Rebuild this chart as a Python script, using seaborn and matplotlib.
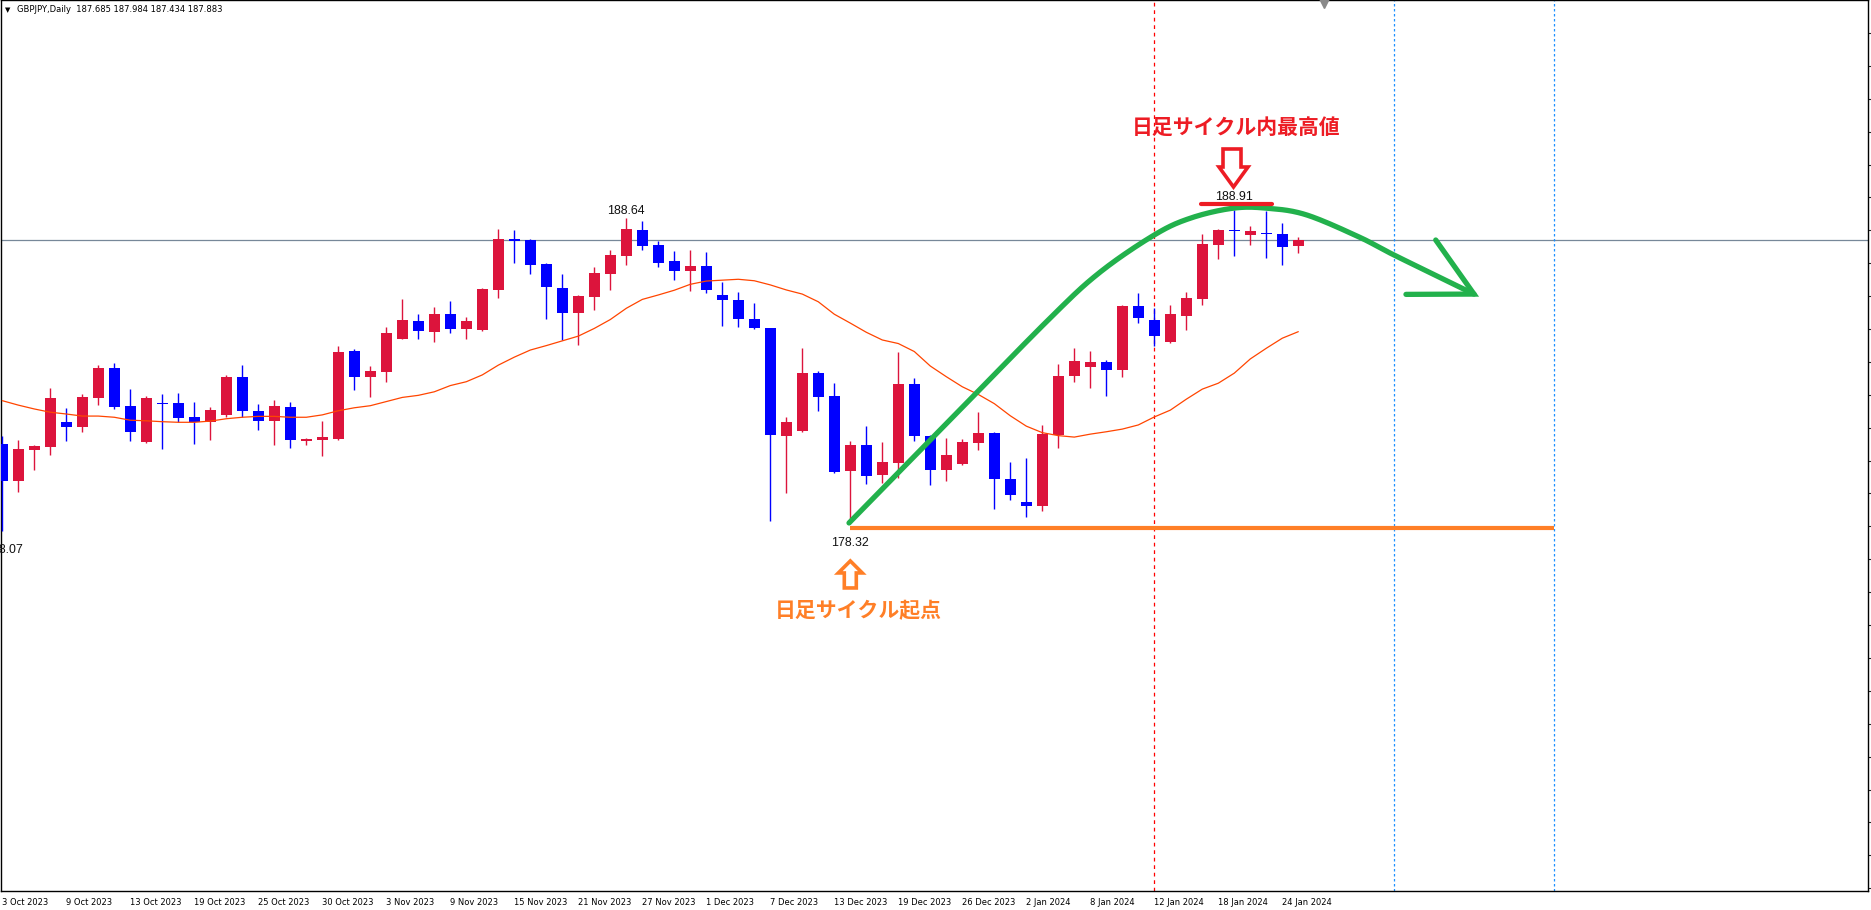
import numpy as np
import pandas as pd
import matplotlib
matplotlib.use("Agg")
import matplotlib.pyplot as plt
import matplotlib.transforms as mtransforms
from matplotlib.patches import Polygon
import seaborn as sns

# ---------------- data ----------------
symbol = "GBPJPY,Daily"
opens = [181.00, 179.76, 180.81, 180.91, 181.74, 181.58, 182.56, 183.56, 182.28, 181.08,
         182.38, 182.38, 181.91, 181.75, 181.98, 183.26, 182.11, 181.78, 182.25, 181.11,
         181.14, 181.18, 184.14, 183.27, 183.44, 184.55, 185.15, 184.79, 185.39, 184.89,
         184.86, 186.21, 187.92, 187.89, 187.08, 186.26, 185.43, 185.97, 186.75, 187.35,
         188.22, 187.72, 187.18, 186.84, 187.01, 186.03, 185.86, 185.22, 184.91, 181.28,
         181.45, 183.39, 182.62, 180.10, 180.96, 179.96, 180.37, 183.02, 181.28, 180.13,
         180.33, 181.04, 181.37, 179.81, 179.04, 178.91, 181.30, 183.29, 183.60, 183.77,
         183.50, 185.66, 185.18, 184.44, 185.32, 185.89, 187.72, 188.22, 188.05, 188.12,
         188.09, 187.685]
highs = [181.27, 181.13, 180.96, 182.89, 182.21, 182.69, 183.66, 183.73, 182.85, 182.62,
         182.69, 182.72, 182.42, 182.24, 183.33, 183.66, 182.35, 182.48, 182.42, 181.20,
         181.77, 184.31, 184.21, 183.63, 184.95, 185.89, 185.39, 185.62, 185.83, 185.29,
         186.27, 188.26, 188.22, 187.92, 187.11, 186.74, 186.03, 186.97, 187.55, 188.64,
         188.53, 187.85, 187.51, 187.55, 187.48, 186.47, 186.13, 185.76, 184.93, 181.91,
         184.24, 183.46, 183.06, 181.10, 181.60, 181.06, 184.10, 183.22, 181.30, 181.20,
         181.17, 182.08, 181.39, 180.40, 180.52, 181.64, 183.70, 184.24, 184.14, 183.83,
         185.69, 186.10, 185.59, 185.69, 186.13, 188.09, 188.25, 188.91, 188.36, 188.85,
         188.46, 187.984]
lows = [178.07, 179.39, 180.12, 180.64, 181.11, 181.41, 182.32, 182.19, 181.11, 181.04,
        180.84, 181.74, 180.99, 181.14, 181.91, 181.91, 181.48, 180.97, 180.87, 180.97,
        180.60, 181.14, 182.83, 182.60, 183.10, 184.54, 184.55, 184.45, 184.76, 184.55,
        184.82, 185.94, 187.12, 186.74, 185.22, 184.51, 184.34, 185.52, 186.20, 187.04,
        187.55, 186.97, 186.53, 186.16, 186.10, 184.98, 184.95, 184.89, 178.38, 179.35,
        181.41, 182.12, 180.03, 178.32, 179.66, 179.69, 179.86, 181.11, 179.62, 179.76,
        180.30, 180.81, 178.81, 179.12, 178.54, 178.74, 180.87, 183.09, 182.89, 182.62,
        183.26, 185.08, 184.31, 184.41, 184.85, 185.69, 187.24, 187.35, 187.72, 187.28,
        187.04, 187.434]
closes = [179.76, 180.83, 180.93, 182.55, 181.58, 182.58, 183.56, 182.26, 181.41, 182.55,
          182.35, 181.89, 181.74, 182.14, 183.26, 182.12, 181.78, 182.28, 181.14, 181.17,
          181.23, 184.10, 183.27, 183.46, 184.75, 185.18, 184.82, 185.39, 184.89, 185.15,
          186.23, 187.92, 187.84, 187.04, 186.31, 185.43, 185.99, 186.77, 187.38, 188.26,
          187.68, 187.11, 186.84, 187.01, 186.20, 185.86, 185.23, 184.93, 181.31, 181.73,
          183.39, 182.60, 180.06, 180.96, 179.93, 180.39, 183.02, 181.28, 180.13, 180.62,
          181.06, 181.37, 179.83, 179.29, 178.91, 181.33, 183.29, 183.80, 183.77, 183.51,
          185.66, 185.25, 184.64, 185.39, 185.93, 187.75, 188.22, 188.18, 188.19, 188.09,
          187.66, 187.883]
ma_values = [182.46, 182.31, 182.18, 182.07, 182.01, 181.94, 181.94, 181.90, 181.80, 181.78,
             181.75, 181.73, 181.73, 181.77, 181.85, 181.90, 181.93, 181.93, 181.90, 181.90,
             181.98, 182.12, 182.22, 182.29, 182.43, 182.57, 182.64, 182.76, 182.97, 183.10,
             183.33, 183.66, 183.93, 184.17, 184.32, 184.48, 184.64, 184.90, 185.20, 185.58,
             185.88, 186.03, 186.19, 186.39, 186.50, 186.53, 186.56, 186.51, 186.37, 186.20,
             186.06, 185.80, 185.38, 185.08, 184.77, 184.51, 184.39, 184.12, 183.63, 183.27,
             182.93, 182.67, 182.36, 181.95, 181.60, 181.38, 181.28, 181.23, 181.33, 181.41,
             181.50, 181.64, 181.91, 182.14, 182.51, 182.85, 183.05, 183.39, 183.87, 184.23,
             184.57, 184.79]
date_labels = ["3 Oct 2023", "9 Oct 2023", "13 Oct 2023", "19 Oct 2023", "25 Oct 2023",
               "30 Oct 2023", "3 Nov 2023", "9 Nov 2023", "15 Nov 2023", "21 Nov 2023",
               "27 Nov 2023", "1 Dec 2023", "7 Dec 2023", "13 Dec 2023", "19 Dec 2023",
               "26 Dec 2023", "2 Jan 2024", "8 Jan 2024", "12 Jan 2024", "18 Jan 2024",
               "24 Jan 2024"]
label_bars = list(range(0, 84, 4))

# annotations (bar index, price)
cycle_low_bar, cycle_low_price = 53, 178.32
cycle_high_bar, cycle_high_price = 77, 188.91
prev_high_bar, prev_high_price = 39, 188.64
first_low_bar, first_low_price = 0, 178.07
support_level = 178.16
support_end_bar = 97
red_sep_bar = 72
blue_sep_bars = [87, 97]
cycle_curve_x = [52.92, 59.11, 65.36, 68.54, 72.01, 74.29, 76.92, 79.04, 81.48, 84.79, 86.98, 91.98]
cycle_curve_y = [178.33, 181.74, 185.18, 186.77, 188.06, 188.63, 188.96, 188.96, 188.74, 187.99, 187.38, 186.06]
arrow_barb_x = [89.59, 91.98, 87.73]
arrow_barb_y = [187.886, 186.06, 186.05]
top_mark_x = [74.9, 79.36]
top_mark_y = 189.11
text_high = "日足サイクル内最高値"
text_low = "日足サイクル起点"

# ---------------- drawing ----------------
sns.set_theme(style="white")
plt.rcParams["font.family"] = ["DejaVu Sans", "Noto Sans CJK JP"]

W, H = 1871, 910
fig = plt.figure(figsize=(W / 100, H / 100), dpi=100)
fig.patch.set_facecolor("white")
ax = fig.add_axes([1 / W, 19 / H, 1867 / W, 891 / H])
ax.set_facecolor("white")

x = np.arange(len(opens))
o = np.array(opens); c = np.array(closes); hi = np.array(highs); lo = np.array(lows)
up = c > o
cols = np.where(up, "#DC143C", "#0000FF")

# y scale: 29.61 px per yen, bid line (187.883) at y=240.1 px from top
ax.set_ylim(187.883 + (240.1 - 891) / 29.61, 187.883 + 240.1 / 29.61)
ax.set_xlim((1 - 2.3) / 16, (1868 - 2.3) / 16)

# bid line
ax.axhline(c[-1], color="#778899", lw=0.9, zorder=1)

# separators
ax.axvline(red_sep_bar, color="#FF0000", lw=0.9, ls=(0, (3, 3)), zorder=1)
for b in blue_sep_bars:
    ax.axvline(b, color="#1E90FF", lw=0.9, ls=(0, (2, 2)), zorder=1)

# candles
ax.vlines(x, lo, hi, colors=cols, lw=1.0, zorder=3)
min_h = 1.3 / 29.61
body_bot = np.minimum(o, c)
body_h = np.maximum(np.abs(c - o), min_h)
ax.bar(x, body_h, bottom=body_bot, width=0.69, color=cols, linewidth=0, zorder=4)

# moving average
df = pd.DataFrame({"bar": x, "ma": ma_values})
sns.lineplot(data=df, x="bar", y="ma", color="#FF4500", lw=0.9, ax=ax, zorder=5)

# support line
ax.plot([cycle_low_bar - 0.05, support_end_bar], [support_level, support_level],
        color="#FF7F27", lw=3.0, solid_capstyle="butt", zorder=6)

# cycle curve (Catmull-Rom through anchor points)
def catmull(px, py, n=30):
    P = np.column_stack([px, py])
    P = np.vstack([P[0] - (P[1] - P[0]), P, P[-1] + (P[-1] - P[-2])])
    out = []
    for i in range(1, len(P) - 2):
        p0, p1, p2, p3 = P[i - 1], P[i], P[i + 1], P[i + 2]
        t = np.linspace(0, 1, n)[:, None]
        seg = 0.5 * ((2 * p1) + (-p0 + p2) * t + (2 * p0 - 5 * p1 + 4 * p2 - p3) * t ** 2
                     + (-p0 + 3 * p1 - 3 * p2 + p3) * t ** 3)
        out.append(seg)
    return np.vstack(out)

cx = np.array(cycle_curve_x) * 16
cy = np.array(cycle_curve_y) * 29.61
curve = catmull(cx, cy)
ax.plot(curve[:, 0] / 16, curve[:, 1] / 29.61, color="#22B14C", lw=3.8,
        solid_capstyle="round", zorder=7)
ax.plot(arrow_barb_x, arrow_barb_y, color="#22B14C", lw=3.8,
        solid_capstyle="round", solid_joinstyle="miter", zorder=7)

# red top mark
ax.plot(top_mark_x, [top_mark_y, top_mark_y], color="#ED1C24", lw=3.0,
        solid_capstyle="round", zorder=8)

# hollow arrows: shapes in pixel offsets relative to a data anchor
def shape_at(bx, by, offs):
    axp, ayp = ax.transData.transform((bx, by))
    pts = [(axp + dx, ayp - dy) for dx, dy in offs]
    return ax.transData.inverted().transform(pts)

red_arrow = [(-11.3, -60.7), (6.7, -60.7), (6.7, -42.7), (13.7, -42.7), (-0.8, -22.7),
             (-15.3, -42.7), (-11.3, -42.7)]
ax.add_patch(Polygon(shape_at(cycle_high_bar, cycle_high_price, red_arrow), closed=True,
                     fill=False, edgecolor="#ED1C24", lw=2.6, joinstyle="miter", zorder=8))
org_arrow = [(0, 37.7), (12, 49.7), (6, 49.7), (6, 64.7), (-6, 64.7), (-6, 49.7), (-12, 49.7)]
ax.add_patch(Polygon(shape_at(cycle_low_bar, cycle_low_price, org_arrow), closed=True,
                     fill=False, edgecolor="#FF7F27", lw=2.6, joinstyle="miter", zorder=8))

# price labels
lab_font = dict(family="Liberation Sans", fontsize=8.9, color="#111111")
ax.annotate(f"{prev_high_price:.2f}", (prev_high_bar, prev_high_price), xytext=(0, 7),
            textcoords="offset pixels", ha="center", va="center", zorder=9, **lab_font)
ax.annotate(f"{cycle_high_price:.2f}", (cycle_high_bar, cycle_high_price), xytext=(0, 12.4),
            textcoords="offset pixels", ha="center", va="center", zorder=9, **lab_font)
ax.annotate(f"{cycle_low_price:.2f}", (cycle_low_bar, cycle_low_price), xytext=(0, -19.4),
            textcoords="offset pixels", ha="center", va="center", zorder=9, **lab_font)
ax.annotate(f"{first_low_price:.2f}", (first_low_bar, first_low_price), xytext=(1.5, -19.4),
            textcoords="offset pixels", ha="center", va="center", zorder=9, **lab_font)

# Japanese annotations
jp = ["Noto Sans CJK JP", "DejaVu Sans"]
ax.annotate(text_high, (cycle_high_bar, cycle_high_price), xytext=(1.7, 82.7),
            textcoords="offset pixels", ha="center", va="center", fontsize=15,
            fontweight="bold", color="#ED1C24", family=jp, zorder=9)
ax.annotate(text_low, (cycle_low_bar, cycle_low_price), xytext=(7.7, -87.7),
            textcoords="offset pixels", ha="center", va="center", fontsize=15,
            fontweight="bold", color="#FF7F27", family=jp, zorder=9)

# axes styling
for s in ax.spines.values():
    s.set_color("black")
    s.set_linewidth(1.0)
ax.set_xticks(label_bars[:len(date_labels)])
ax.set_xticklabels(date_labels, fontsize=6.0, ha="left", family="DejaVu Sans")
offset = mtransforms.ScaledTranslation(1.5 / 100, 0, fig.dpi_scale_trans)
for lbl in ax.get_xticklabels():
    lbl.set_transform(lbl.get_transform() + offset)
ax.tick_params(axis="x", direction="out", length=3.5, width=0.8, pad=1.5, colors="black")
ax.yaxis.tick_right()
ylo, yhi = ax.get_ylim()
ax.set_yticks(np.arange(194.88, ylo, -1.111))
ax.tick_params(axis="y", direction="out", length=3, width=0.8, labelright=False, right=True)
ax.set_xlabel(""); ax.set_ylabel("")
ax.grid(False)

# chart-shift marker at top
ax.plot([82.6], [1 - 3 / 891], marker="v", markersize=6.5, color="#8A8A8A",
        transform=mtransforms.blended_transform_factory(ax.transData, ax.transAxes),
        clip_on=False, zorder=10)

# header
fig.text(5 / W, 1 - 10 / H, "▼", fontsize=5, va="center", ha="left", color="black")
fig.text(17 / W, 1 - 10 / H,
         f"{symbol}  {opens[-1]:.3f} {highs[-1]:.3f} {lows[-1]:.3f} {closes[-1]:.3f}",
         fontsize=6, va="center", ha="left", color="black", family="DejaVu Sans")

fig.savefig("out.png", dpi=100, facecolor="white")
